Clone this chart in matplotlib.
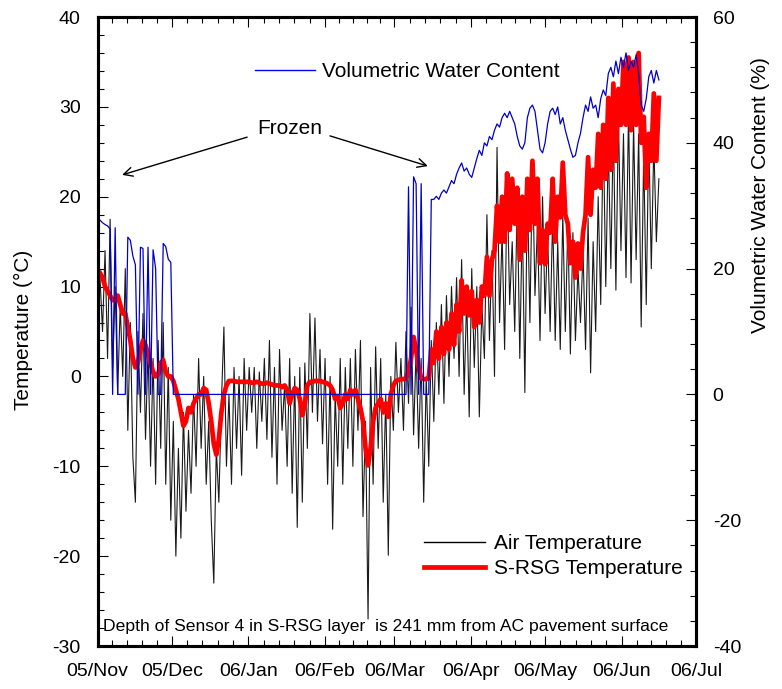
import matplotlib
matplotlib.use("Agg")
import matplotlib.pyplot as plt
import matplotlib.dates as mdates
from matplotlib.lines import Line2D
from matplotlib.ticker import MultipleLocator, FixedLocator
import pandas as pd

# one reading per ~day, 05/Nov/02 .. 06/Jun/16
air_temp = [
    11, 5, 14, 2, 17.5, 1, 10, -2, 8, 0,
    12, -6, 6, -9, -14, 5, -4, 7, -7, 3,
    -10, 2, -12, 4, -8, 6, -12, 1, -16, -5,
    -20, -8, -18, -4, -15, -6, -13, -2, -10, 2,
    -8, 0, -12, -5, -16, -23, -8, -14, -3, 5.5,
    -10, -2, -12, 1, -8, 0, -11, 2, -6, 1,
    -4, 1, -8, 0.5, -5, 2, -7, 4, -9, 1,
    -12, 3, -6, -1, -10, 2, -13, 0, -16.8, 1,
    -14, 1.5, -8, 7, -4, 6.5, -5, 3, -7.5, 2,
    -12, 0, -17, -2, -10, 2, -12, 1, -8, 2,
    -10, 3, -6, 4, -15.6, -5, -27, 1, -12, 3.3,
    -8, 2, -14, -2, -19.9, 0, -6, 3.8, -4, 2,
    -6, 5, -3, 7.7, -6.5, 3, -8, 2, -14, 0,
    -10, 4, -5, 6, -2, 8, -3, 9, 0, 10,
    2, 11, 0, 13, -2, 9, -4.5, 12, 1, 10,
    -4.5, 8, 2, 18, 4, 14, 0, 25.5, 6, 16,
    3, 22, 8, 15, 5, 20, 2, 18, -1.8, 21,
    6, 24, 9, 17, 4, 20, 7, 16, 5, 18,
    4, 15, 3, 18, 5, 17, 2.5, 16, 4, 12,
    6, 14, 3, 17.6, 0.4, 15, 5, 20, 8, 27.8,
    10, 26, 12, 28, 9.6, 29, 14, 27, 11, 29.6,
    10.4, 28, 13, 27, 5.5, 25, 8, 27, 12, 26,
    15, 22,
]

srsg_temp = [
    11.5, 11, 10, 9.5, 9, 8.5, 8.5, 9, 8, 7,
    7, 5.5, 4, 2, 1, 1.5, 3, 4, 3.5, 2.5,
    1.5, 0.5, 0, 0.2, 1.5, 1.8, 0.5, 0, 0, -0.5,
    -1.5, -2.5, -4, -5.5, -5, -3.5, -4, -3, -2.5, -2,
    -2, -1.3, -1.5, -3, -5, -7.5, -8.7, -7, -4, -2,
    -1, -0.5, -0.5, -0.5, -0.6, -0.6, -0.6, -0.6, -0.6, -0.6,
    -0.7, -0.7, -0.6, -0.7, -0.8, -0.8, -0.7, -0.8, -0.9, -1,
    -1, -1, -1.2, -1, -1.5, -3, -2, -1.3, -1.5, -2.5,
    -4.3, -3, -1, -0.6, -0.6, -0.5, -0.5, -0.5, -0.6, -0.7,
    -0.8, -1, -1.5, -2.5, -2.2, -3.5, -3, -2, -2.5, -1.5,
    -2, -1.5, -2.5, -3.5, -5, -8, -9.9, -8, -5, -3.5,
    -3, -2.5, -4, -3, -4.5, -2, -1, -0.5, -0.4, -0.3,
    -0.3, -0.2, 0.5, 2, 4.4, 3, 1, -0.2, -0.3, -0.3,
    -0.2, 3, 1.5, 5, 2, 5.5, 2.5, 6, 3, 7,
    3.5, 8, 5, 10.7, 7, 10, 6.8, 9.5, 5.5, 8.5,
    6, 10, 9, 13.3, 9, 13, 14, 19, 15, 20,
    15, 22.6, 16.3, 22, 17, 21, 13, 20, 14, 22,
    16.3, 24, 17, 22, 12.6, 16.3, 12.5, 17, 16, 22,
    15, 20, 17.7, 23.8, 18, 17, 12.6, 15, 11, 14.8,
    12, 16, 18, 24.4, 18, 23, 21, 27, 21, 28,
    22, 31, 23, 32.6, 24, 32, 28, 35, 28, 35.5,
    27.4, 35, 28, 36, 26, 28.9, 21, 27, 24, 31.5,
    24, 31,
]

# sensor reads 0 % while the layer is frozen
vwc = [
    27.7, 27.3, 27, 26.8, 26.3, 0, 26.5, 0, 0, 0,
    0, 25, 24.5, 22, 20.6, 0, 23.4, 23.2, 0, 23.4,
    0, 23, 20, 0, 0, 24, 23.5, 21.5, 21, 0,
] + [0] * 92 + [
    33, 0, 34.6, 33.5, 0, 33.5, 0, 0, 0, 31,
    31, 31.5, 31, 32, 32.5, 32, 33, 34,
    33.5, 35, 36, 36.8, 35.5, 36, 35, 34.5, 36, 37.5,
    38.8, 38, 40, 39.5, 41, 40.5, 42, 43, 42.5, 44,
    44.7, 44, 45, 44, 43, 41, 39.5, 39, 40, 44,
    45.5, 46, 45, 42, 39, 38.4, 40, 43, 45, 45.5,
    44.5, 45.7, 43, 44, 42, 40.5, 39, 37.7, 38, 40,
    41.5, 44, 46, 45, 47.3, 45.5, 46, 44, 47, 48.4,
    47.5, 51, 52, 50.5, 53, 51, 53.6, 52, 54.3, 51.5,
    53, 52, 54, 51, 46, 45, 47, 50.5, 51.5, 49.5,
    51.5, 50,
]

record_start = "2005-11-02"
record_end = "2006-06-16"
x_start = "2005-11-01"
x_end = "2006-07-01"

plt.rcParams["font.family"] = ["Liberation Sans", "DejaVu Sans"]
plt.rcParams["axes.unicode_minus"] = False

dates = pd.date_range(record_start, record_end, periods=len(air_temp))

fig = plt.figure(figsize=(7.82, 6.89), dpi=100)
ax = fig.add_axes([0.1247, 0.0624, 0.7653, 0.9129])
ax2 = ax.twinx()

ax.plot(dates, air_temp, color="#1a1a1a", lw=0.8, zorder=2)
ax.plot(dates, srsg_temp, color="#ff0000", lw=3.4, zorder=3)
ax2.plot(dates, vwc, color="#0000cc", lw=0.9)

# x axis: months, minor ticks split each month in 5
ax.set_xlim(pd.Timestamp(x_start), pd.Timestamp(x_end))
ax.xaxis.set_major_locator(mdates.MonthLocator())
ax.xaxis.set_major_formatter(mdates.DateFormatter("%y/%b"))
months = pd.date_range(x_start, x_end, freq="MS")
minor = []
for a, b in zip(months[:-1], months[1:]):
    step = (b - a) / 5
    minor += [mdates.date2num(a + k * step) for k in range(1, 5)]
ax.xaxis.set_minor_locator(FixedLocator(minor))

ax.set_ylim(-30, 40)
ax.yaxis.set_major_locator(MultipleLocator(10))
ax.yaxis.set_minor_locator(MultipleLocator(2))
ax2.set_ylim(-40, 60)
ax2.yaxis.set_major_locator(MultipleLocator(20))
ax2.yaxis.set_minor_locator(MultipleLocator(4))

for a in (ax, ax2):
    a.tick_params(which="both", direction="in", labelsize=14, width=0.8, pad=12)
    a.tick_params(which="major", length=7.5)
    a.tick_params(which="minor", length=4)
    for s in a.spines.values():
        s.set_linewidth(2.2)
ax.tick_params(axis="x", which="both", top=True)

ax.set_ylabel("Temperature (°C)", fontsize=15)
ax.yaxis.set_label_coords(-0.108, 0.502)
ax2.set_ylabel("Volumetric Water Content (%)", fontsize=15)
ax2.yaxis.set_label_coords(1.092, 0.717)

# legends
h_vwc = Line2D([], [], color="#0000ff", lw=1)
leg1 = ax2.legend([h_vwc], ["Volumetric Water Content"], loc="center left",
                  bbox_to_anchor=(0.263, 0.9126), frameon=False, fontsize=15,
                  handlelength=2.88, handletextpad=0.34, borderpad=0, borderaxespad=0)
ax2.add_artist(leg1)
h_air = Line2D([], [], color="black", lw=1)
h_srsg = Line2D([], [], color="#ff0000", lw=3.4)
ax2.legend([h_air, h_srsg], ["Air Temperature", "S-RSG Temperature"], loc="center left",
           bbox_to_anchor=(0.5455, 0.143), frameon=False, fontsize=15,
           handlelength=2.93, handletextpad=0.45, labelspacing=0.3,
           borderpad=0, borderaxespad=0)

# "Frozen" callout
arrow = dict(arrowstyle="->", color="black", lw=1, shrinkA=0, shrinkB=0, mutation_scale=16)
ax2.annotate("", xy=(0.041, 0.749), xytext=(0.250, 0.809), xycoords="axes fraction", arrowprops=arrow)
ax2.annotate("", xy=(0.552, 0.763), xytext=(0.3885, 0.811), xycoords="axes fraction", arrowprops=arrow)
ax2.text(0.3216, 0.8235, "Frozen", transform=ax2.transAxes, ha="center", va="center", fontsize=15)

ax2.text(0.009, 0.0318, "Depth of Sensor 4 in S-RSG layer  is 241 mm from AC pavement surface",
         transform=ax2.transAxes, ha="left", va="center", fontsize=12.6)

fig.savefig("out.png", dpi=100, facecolor="white")
